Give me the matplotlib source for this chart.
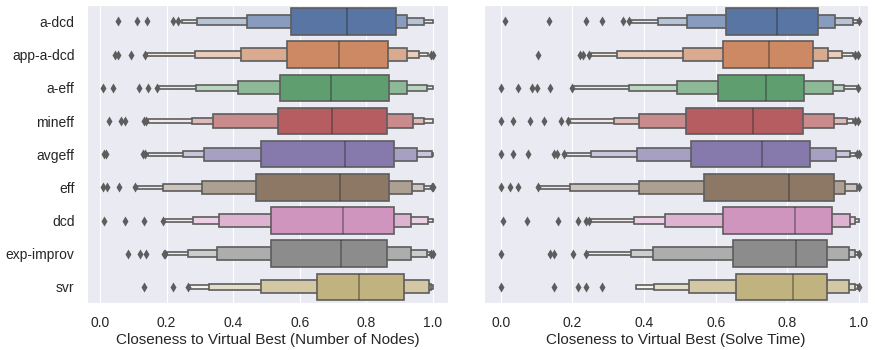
import colorsys
import matplotlib
matplotlib.use("Agg")
import matplotlib.pyplot as plt
import seaborn as sns

sns.set_style("darkgrid")
plt.rcParams['font.family'] = ['Liberation Sans', 'DejaVu Sans']

methods = ['a-dcd', 'app-a-dcd', 'a-eff', 'mineff', 'avgeff', 'eff', 'dcd',
           'exp-improv', 'svr']

# letter values: lower / upper ends of the boxes,
# outermost box first, the inter-quartile box last
nodes_lower = [
    [0.246, 0.291, 0.441, 0.574],
    [0.140, 0.285, 0.422, 0.563],
    [0.175, 0.288, 0.413, 0.541],
    [0.145, 0.275, 0.340, 0.535],
    [0.145, 0.250, 0.312, 0.483],
    [0.105, 0.188, 0.305, 0.468],
    [0.192, 0.278, 0.358, 0.514],
    [0.200, 0.265, 0.350, 0.513],
    [0.268, 0.327, 0.483, 0.653],
]
nodes_upper = [
    [0.999, 0.973, 0.921, 0.888],
    [0.985, 0.958, 0.921, 0.866],
    [0.999, 0.981, 0.921, 0.869],
    [0.999, 0.973, 0.939, 0.863],
    [0.999, 0.996, 0.953, 0.884],
    [0.996, 0.974, 0.936, 0.867],
    [0.999, 0.984, 0.933, 0.883],
    [0.993, 0.981, 0.933, 0.861],
    [1.000, 0.995, 0.989, 0.914],
]
nodes_median = [0.741, 0.718, 0.694, 0.696, 0.736, 0.722, 0.731, 0.723, 0.778]
nodes_outliers = [
    [0.054, 0.111, 0.141, 0.219, 0.234],
    [0.046, 0.054, 0.092, 0.135, 0.993, 1.0],
    [0.010, 0.038, 0.118, 0.145, 0.170],
    [0.028, 0.062, 0.075, 0.132, 0.138],
    [0.012, 0.018, 0.130, 0.134],
    [0.008, 0.020, 0.057, 0.105, 0.997, 1.0],
    [0.012, 0.076, 0.133, 0.190],
    [0.085, 0.120, 0.138, 0.192, 0.196, 0.995, 1.0],
    [0.132, 0.220, 0.265],
]

time_lower = [
    [0.361, 0.440, 0.521, 0.629],
    [0.251, 0.325, 0.510, 0.620],
    [0.201, 0.359, 0.491, 0.606],
    [0.189, 0.316, 0.387, 0.517],
    [0.179, 0.251, 0.380, 0.531],
    [0.108, 0.193, 0.386, 0.566],
    [0.251, 0.373, 0.459, 0.620],
    [0.240, 0.363, 0.424, 0.647],
    [0.377, 0.428, 0.526, 0.657],
]
time_upper = [
    [0.998, 0.982, 0.933, 0.885],
    [0.982, 0.952, 0.913, 0.871],
    [0.994, 0.959, 0.926, 0.847],
    [0.982, 0.966, 0.930, 0.843],
    [0.992, 0.975, 0.936, 0.863],
    [0.998, 0.994, 0.961, 0.931],
    [1.000, 0.989, 0.975, 0.924],
    [0.996, 0.989, 0.973, 0.910],
    [0.996, 0.989, 0.972, 0.910],
]
time_median = [0.772, 0.749, 0.740, 0.705, 0.728, 0.805, 0.822, 0.824, 0.817]
time_outliers = [
    [0.012, 0.136, 0.239, 0.284, 0.342, 0.359, 1.0],
    [0.105, 0.222, 0.230, 0.247, 0.990, 0.998],
    [0.001, 0.047, 0.088, 0.102, 0.138, 0.198, 0.997],
    [0.001, 0.033, 0.083, 0.122, 0.167, 0.187, 0.990, 0.998],
    [0.001, 0.033, 0.075, 0.149, 0.158, 0.178, 0.993, 0.999],
    [0.001, 0.026, 0.047, 0.105, 1.0],
    [0.005, 0.074, 0.159, 0.217, 0.238, 0.247],
    [0.001, 0.138, 0.149, 0.203, 0.237, 0.999],
    [0.001, 0.150, 0.217, 0.238, 0.284, 0.999],
]

# colours the way seaborn's boxenplot picks them (edge a touch lighter)
palette = [sns.desaturate(c, 0.75) for c in sns.color_palette("deep", len(methods))]
lum = min(colorsys.rgb_to_hls(*c)[1] for c in palette) * 0.6 + 0.08
gray = (lum, lum, lum)
box_width = 0.8


def draw_panel(ax, lower, upper, median, outliers, xlabel):
    for i, name in enumerate(methods):
        base = palette[i]
        n = len(lower[i])
        for j in range(n):
            v = 1 - j / (n - 1)
            col = tuple(c + 0.85 * v * (1 - c) for c in base)
            h = box_width * 2 ** (j - n + 1)
            ax.barh(i, upper[i][j] - lower[i][j], left=lower[i][j], height=h,
                    color=col, edgecolor=gray, linewidth=1.2, zorder=1)
        ax.plot([median[i], median[i]], [i - box_width / 2, i + box_width / 2],
                color='.15', alpha=0.45, linewidth=1.2, solid_capstyle='butt',
                zorder=2)
        ax.scatter(outliers[i], [i] * len(outliers[i]), marker='d', s=26,
                   color=gray, linewidth=0, zorder=2)
    ax.set_yticks(range(len(methods)))
    ax.set_ylim(len(methods) - 0.5, -0.5)
    ax.set_xticks([0.0, 0.2, 0.4, 0.6, 0.8, 1.0])
    ax.yaxis.grid(False)
    ax.set_xlabel(xlabel, fontsize=11, labelpad=2)
    ax.tick_params(axis='both', labelsize=10, pad=9, length=0)


fig = plt.figure(figsize=(8.75, 3.5), dpi=100)
ax1 = fig.add_axes([0.0994, 0.133, 0.4126, 0.853])
ax2 = fig.add_axes([0.553, 0.133, 0.439, 0.853])

draw_panel(ax1, nodes_lower, nodes_upper, nodes_median, nodes_outliers,
           'Closeness to Virtual Best (Number of Nodes)')
ax1.set_yticklabels(methods)
ax1.set_xlim(-0.039, 1.045)

draw_panel(ax2, time_lower, time_upper, time_median, time_outliers,
           'Closeness to Virtual Best (Solve Time)')
ax2.set_yticklabels([])
ax2.set_xlim(-0.047, 1.025)

fig.savefig('out.png', dpi=100)
